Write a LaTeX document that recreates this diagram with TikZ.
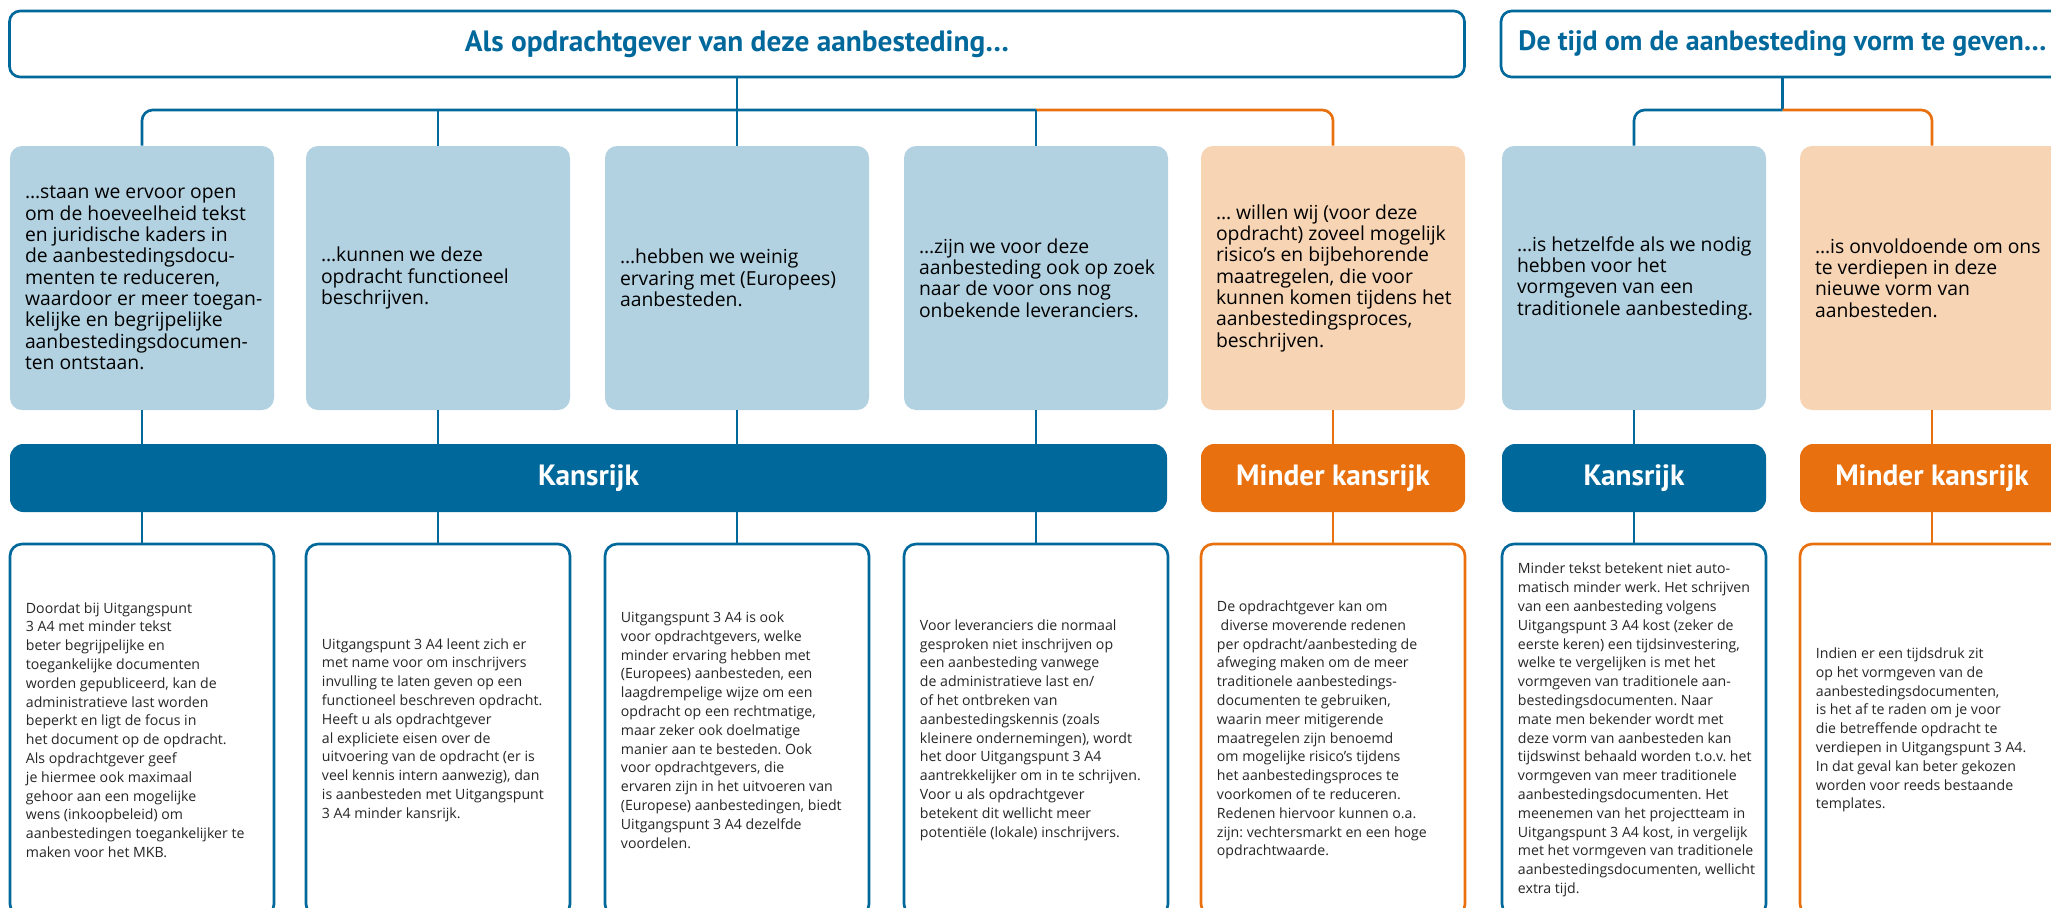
\documentclass[tikz,border=0pt]{standalone}
\usepackage{fontspec}
\setmainfont{Open Sans}
\newfontfamily\kopfont{PT Sans}
\usetikzlibrary{positioning,shapes.misc,backgrounds}

\definecolor{rijkblauw}{HTML}{01689B}
\definecolor{lichtblauw}{HTML}{B2D2E1}
\definecolor{rijkoranje}{HTML}{E8700E}
\definecolor{lichtoranje}{HTML}{F6D4B4}

\tikzset{
  headbox/.style={rectangle, rounded corners=8pt, draw=rijkblauw, line width=2pt, minimum height=49.5pt, text=rijkblauw, font=\kopfont\bfseries\fontsize{22}{24}\selectfont},
  askbox/.style={rectangle, rounded corners=9pt, minimum width=198pt, minimum height=198pt},
  asktext/.style={anchor=west, xshift=11.25pt, inner sep=0pt, align=left, font=\frenchspacing\fontsize{14.5}{16}\selectfont},
  verdict/.style={rectangle, rounded corners=10pt, minimum height=51pt, text=white, font=\kopfont\bfseries\fontsize{22}{24}\selectfont},
  uitleg/.style={rectangle, rounded corners=9pt, fill=white, line width=2pt, minimum width=198pt, minimum height=279pt},
  uitlegtext/.style={anchor=west, xshift=12.75pt, inner sep=0pt, align=left, text=black!85, font=\frenchspacing\fontsize{10.6}{14.1}\selectfont},
  bluelink/.style={draw=rijkblauw, line width=2pt},
  orangelink/.style={draw=rijkoranje, line width=2pt}
}

\begin{document}
\begin{tikzpicture}[x=0.75pt, y=-0.75pt]

\path[use as bounding box] (0,0) rectangle (2051,907);

% Vragen
\draw (737,44) node [headbox, minimum width=1091.25pt] (vraag) {Als opdrachtgever van deze aanbesteding…};
\draw (1782.5,44) node [headbox, minimum width=422.25pt, font=\kopfont\bfseries\fontsize{21}{24}\selectfont] (tijd) {De tijd om de aanbesteding vorm te geven…};

% Antwoorden
\draw (142,278) node [askbox, fill=lichtblauw] (ruimte) {};
\draw (438,278) node [askbox, fill=lichtblauw] (functioneel) {};
\draw (737,278) node [askbox, fill=lichtblauw] (ervaring) {};
\draw (1036,278) node [askbox, fill=lichtblauw] (leveranciers) {};
\draw (1333,278) node [askbox, fill=lichtoranje] (risicos) {};
\draw (1634,278) node [askbox, fill=lichtblauw] (hetzelfde) {};
\draw (1932,278) node [askbox, fill=lichtoranje] (onvoldoende) {};

\draw (ruimte.west) node [asktext] (ruimteTekst) {…staan we ervoor open\\om de hoeveelheid tekst\\en juridische kaders in\\de aanbestedingsdocu-\\menten te reduceren,\\waardoor er meer toegan-\\kelijke en begrijpelijke\\aanbestedingsdocumen-\\ten ontstaan.};
\draw (functioneel.west) node [asktext] (functioneelTekst) {…kunnen we deze\\opdracht functioneel\\beschrijven.};
\draw (ervaring.west) node [asktext] (ervaringTekst) {…hebben we weinig\\ervaring met (Europees)\\aanbesteden.};
\draw (leveranciers.west) node [asktext] (leveranciersTekst) {…zijn we voor deze\\aanbesteding ook op zoek\\naar de voor ons nog\\onbekende leveranciers.};
\draw (risicos.west) node [asktext] (risicosTekst) {… willen wij (voor deze\\opdracht) zoveel mogelijk\\risico’s en bijbehorende\\maatregelen, die voor\\kunnen komen tijdens het\\aanbestedingsproces,\\beschrijven.};
\draw (hetzelfde.west) node [asktext] (hetzelfdeTekst) {…is hetzelfde als we nodig\\hebben voor het\\vormgeven van een\\traditionele aanbesteding.};
\draw (onvoldoende.west) node [asktext] (onvoldoendeTekst) {…is onvoldoende om ons\\te verdiepen in deze\\nieuwe vorm van\\aanbesteden.};

% Oordeel
\draw (588.5,478) node [verdict, fill=rijkblauw, minimum width=867.75pt] (kansrijk) {Kansrijk};
\draw (1333,478) node [verdict, fill=rijkoranje, minimum width=198pt] (minder) {Minder kansrijk};
\draw (1634,478) node [verdict, fill=rijkblauw, minimum width=198pt] (kansrijkTijd) {Kansrijk};
\draw (1932,478) node [verdict, fill=rijkoranje, minimum width=198pt] (minderTijd) {Minder kansrijk};

% Toelichting
\draw (142,730) node [uitleg, draw=rijkblauw] (uitlegRuimte) {};
\draw (438,730) node [uitleg, draw=rijkblauw] (uitlegFunctioneel) {};
\draw (737,730) node [uitleg, draw=rijkblauw] (uitlegErvaring) {};
\draw (1036,730) node [uitleg, draw=rijkblauw] (uitlegLeveranciers) {};
\draw (1333,730) node [uitleg, draw=rijkoranje] (uitlegRisicos) {};
\draw (1634,730) node [uitleg, draw=rijkblauw] (uitlegHetzelfde) {};
\draw (1932,730) node [uitleg, draw=rijkoranje] (uitlegOnvoldoende) {};

\draw (uitlegRuimte.west) node [uitlegtext] (ruimteUitleg) {Doordat bij Uitgangspunt\\3 A4 met minder tekst\\beter begrijpelijke en\\toegankelijke documenten\\worden gepubliceerd, kan de\\administratieve last worden\\beperkt en ligt de focus in\\het document op de opdracht.\\Als opdrachtgever geef\\je hiermee ook maximaal\\gehoor aan een mogelijke\\wens (inkoopbeleid) om\\aanbestedingen toegankelijker te\\maken voor het MKB.};
\draw (uitlegFunctioneel.west) node [uitlegtext] (functioneelUitleg) {Uitgangspunt 3 A4 leent zich er\\met name voor om inschrijvers\\invulling te laten geven op een\\functioneel beschreven opdracht.\\Heeft u als opdrachtgever\\al expliciete eisen over de\\uitvoering van de opdracht (er is\\veel kennis intern aanwezig), dan\\is aanbesteden met Uitgangspunt\\3 A4 minder kansrijk.};
\draw (uitlegErvaring.west) node [uitlegtext] (ervaringUitleg) {Uitgangspunt 3 A4 is ook\\voor opdrachtgevers, welke\\minder ervaring hebben met\\(Europees) aanbesteden, een\\laagdrempelige wijze om een\\opdracht op een rechtmatige,\\maar zeker ook doelmatige\\manier aan te besteden. Ook\\voor opdrachtgevers, die\\ervaren zijn in het uitvoeren van\\(Europese) aanbestedingen, biedt\\Uitgangspunt 3 A4 dezelfde\\voordelen.};
\draw (uitlegLeveranciers.west) node [uitlegtext] (leveranciersUitleg) {Voor leveranciers die normaal\\gesproken niet inschrijven op\\een aanbesteding vanwege\\de administratieve last en/\\of het ontbreken van\\aanbestedingskennis (zoals\\kleinere ondernemingen), wordt\\het door Uitgangspunt 3 A4\\aantrekkelijker om in te schrijven.\\Voor u als opdrachtgever\\betekent dit wellicht meer\\potentiële (lokale) inschrijvers.};
\draw (uitlegRisicos.west) node [uitlegtext] (risicosUitleg) {De opdrachtgever kan om\\\ diverse moverende redenen\\per opdracht/aanbesteding de\\afweging maken om de meer\\traditionele aanbestedings-\\documenten te gebruiken,\\waarin meer mitigerende\\maatregelen zijn benoemd\\om mogelijke risico’s tijdens\\het aanbestedingsproces te\\voorkomen of te reduceren.\\Redenen hiervoor kunnen o.a.\\zijn: vechtersmarkt en een hoge\\opdrachtwaarde.};
\draw (uitlegHetzelfde.west) node [uitlegtext] (hetzelfdeUitleg) {Minder tekst betekent niet auto-\\matisch minder werk. Het schrijven\\van een aanbesteding volgens\\Uitgangspunt 3 A4 kost (zeker de\\eerste keren) een tijdsinvestering,\\welke te vergelijken is met het\\vormgeven van traditionele aan-\\bestedingsdocumenten. Naar\\mate men bekender wordt met\\deze vorm van aanbesteden kan\\tijdswinst behaald worden t.o.v. het\\vormgeven van meer traditionele\\aanbestedingsdocumenten. Het\\meenemen van het projectteam in\\Uitgangspunt 3 A4 kost, in vergelijk\\met het vormgeven van traditionele\\aanbestedingsdocumenten, wellicht\\extra tijd.};
\draw (uitlegOnvoldoende.west) node [uitlegtext] (onvoldoendeUitleg) {Indien er een tijdsdruk zit\\op het vormgeven van de\\aanbestedingsdocumenten,\\is het af te raden om je voor\\die betreffende opdracht te\\verdiepen in Uitgangspunt 3 A4.\\In dat geval kan beter gekozen\\worden voor reeds bestaande\\templates.};

% Lijnen boven
\coordinate (splitVraag) at (737,110);
\coordinate (splitTijd) at (1782.5,110);
\draw [bluelink] (vraag)--(splitVraag);
\draw [bluelink, rounded corners=8pt] (ruimte.north) |- (splitVraag -| leveranciers.north);
\draw [orangelink, rounded corners=8pt] (splitVraag -| leveranciers.north) -| (risicos.north);
\draw [bluelink] (splitVraag -| functioneel.north)--(functioneel);
\draw [bluelink] (splitVraag)--(ervaring);
\draw [bluelink] (splitVraag -| leveranciers.north)--(leveranciers);
\draw [bluelink] (tijd)--(splitTijd);
\draw [bluelink, rounded corners=8pt] (splitTijd) -| (hetzelfde.north);
\draw [orangelink, rounded corners=8pt] (splitTijd) -| (onvoldoende.north);

% Lijnen naar oordeel
\draw [bluelink] (ruimte)--(ruimte |- kansrijk.north);
\draw [bluelink] (functioneel)--(functioneel |- kansrijk.north);
\draw [bluelink] (ervaring)--(ervaring |- kansrijk.north);
\draw [bluelink] (leveranciers)--(leveranciers |- kansrijk.north);
\draw [orangelink] (risicos)--(minder);
\draw [bluelink] (hetzelfde)--(kansrijkTijd);
\draw [orangelink] (onvoldoende)--(minderTijd);

% Lijnen naar toelichting
\draw [bluelink] (kansrijk.south -| uitlegRuimte)--(uitlegRuimte);
\draw [bluelink] (kansrijk.south -| uitlegFunctioneel)--(uitlegFunctioneel);
\draw [bluelink] (kansrijk.south -| uitlegErvaring)--(uitlegErvaring);
\draw [bluelink] (kansrijk.south -| uitlegLeveranciers)--(uitlegLeveranciers);
\draw [orangelink] (minder)--(uitlegRisicos);
\draw [bluelink] (kansrijkTijd)--(uitlegHetzelfde);
\draw [orangelink] (minderTijd)--(uitlegOnvoldoende);

\end{tikzpicture}
\end{document}
